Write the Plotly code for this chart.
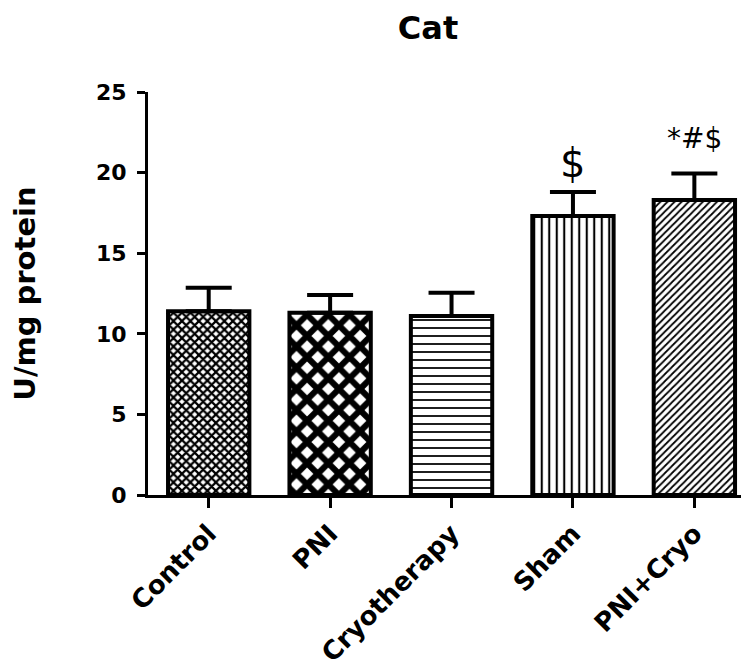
import plotly.graph_objects as go

categories = ["Control", "PNI", "Cryotherapy", "Sham", "PNI+Cryo"]
means = [11.4, 11.3, 11.1, 17.3, 18.3]
sems = [1.45, 1.1, 1.45, 1.5, 1.65]
sig_labels = ["", "", "", "$", "*#$"]
y_ticks = [0, 5, 10, 15, 20, 25]

# styling (not data)
patterns = [
    dict(shape="x", size=6, solidity=0.6),
    dict(shape="x", size=15, solidity=0.65),
    dict(shape="-", size=8, solidity=0.22),
    dict(shape="|", size=7.5, solidity=0.28),
    dict(shape="/", size=5, solidity=0.35),
]
sig_font_sizes = [0, 0, 0, 40, 28]
sig_yshift = [0, 0, 0, 4, 16]

BOLD = "DejaVu Sans"
# page body has an 8px default margin, so the figure is sized to fit the window
W, H = 741, 660

fig = go.Figure()
for i, cat in enumerate(categories):
    p = patterns[i]
    fig.add_trace(go.Bar(
        x=[cat], y=[means[i]],
        width=0.67,
        marker=dict(
            color="white",
            line=dict(color="black", width=4),
            pattern=dict(shape=p["shape"], size=p["size"], solidity=p["solidity"],
                         fgcolor="black", bgcolor="white", fgopacity=1),
        ),
        error_y=dict(type="data", symmetric=False, array=[sems[i]], arrayminus=[0],
                     color="black", thickness=4, width=23),
        showlegend=False,
    ))

for i, cat in enumerate(categories):
    if sig_labels[i]:
        fig.add_annotation(x=cat, y=means[i] + sems[i], text=sig_labels[i],
                           showarrow=False, yanchor="bottom", yshift=sig_yshift[i],
                           font=dict(family="DejaVu Sans", size=sig_font_sizes[i], color="black"))

fig.update_layout(
    width=W, height=H,
    margin=dict(l=140, r=0, t=84, b=173),
    paper_bgcolor="white", plot_bgcolor="white",
    font=dict(family=BOLD, color="black"),
    title=dict(text="<b>Cat</b>", x=420/W, xref="container", xanchor="center",
               y=1 - 9/H, yref="container", yanchor="top",
               font=dict(size=32, family=BOLD, color="black")),
)
fig.update_xaxes(
    range=[-0.5, 4.45], showline=True, linecolor="black", linewidth=3,
    ticks="outside", ticklen=10, tickwidth=3, tickcolor="black",
    tickangle=-45, tickfont=dict(size=26, family=BOLD, weight="bold"),
    showgrid=False, zeroline=False,
)
fig.update_yaxes(
    range=[0, 25], tickvals=y_ticks, showline=True, linecolor="black", linewidth=3,
    ticks="outside", ticklen=8, tickwidth=3, tickcolor="black",
    tickfont=dict(size=22, family=BOLD, weight="bold"),
    ticklabelstandoff=6,
    showgrid=False, zeroline=False,
    title=dict(text="<b>U/mg protein</b>", standoff=60,
               font=dict(size=29, family=BOLD, color="black")),
)

fig.write_html("out.html")
